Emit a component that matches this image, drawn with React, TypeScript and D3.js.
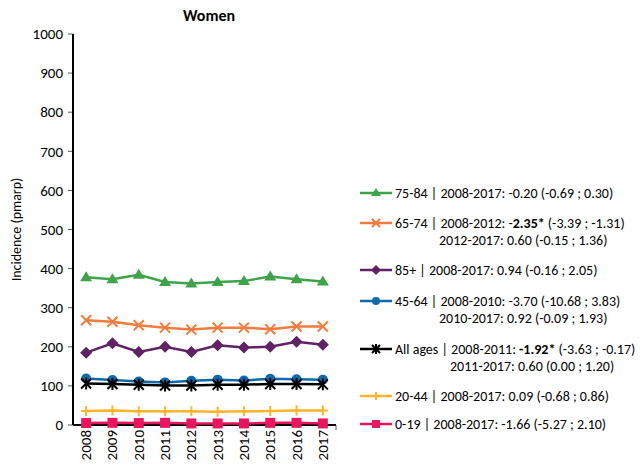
import * as d3 from "d3";
import React from "react";

const years = ["2008", "2009", "2010", "2011", "2012", "2013", "2014", "2015", "2016", "2017"];
const yTicks = [0, 100, 200, 300, 400, 500, 600, 700, 800, 900, 1000];

const age7584 = [378, 373, 384, 366, 362, 366, 368, 380, 373, 367];
const age6574 = [268, 264, 255, 249, 244, 249, 249, 245, 252, 252];
const age85 = [185, 209, 187, 200, 187, 204, 198, 200, 213, 205];
const age4564 = [119, 115, 111, 109, 113, 116, 114, 118, 117, 116];
const allAges = [106, 105, 103, 101, 101, 103, 103, 105, 105, 104];
const age2044 = [36, 37, 35, 35, 35, 34, 35, 36, 37, 37];
const age019 = [5, 5.5, 5, 5.5, 4, 4, 4, 5.5, 5.5, 4];

type Part = { t: string; b?: boolean };
type Series = { name: string; values: number[]; color: string; marker: string; lines: Part[][]; indent: number };

const series: Series[] = [
  { name: "75-84", values: age7584, color: "#3fa34a", marker: "triangle", indent: 0,
    lines: [[{ t: "75-84 | 2008-2017: -0.20 (-0.69 ; 0.30)" }]] },
  { name: "65-74", values: age6574, color: "#f47b3e", marker: "x", indent: 44,
    lines: [[{ t: "65-74 | 2008-2012: -" }, { t: "2.35*", b: true }, { t: " (-3.39 ; -1.31)" }],
      [{ t: "2012-2017: 0.60 (-0.15 ; 1.36)" }]] },
  { name: "85+", values: age85, color: "#5f2264", marker: "diamond", indent: 0,
    lines: [[{ t: "85+ | 2008-2017: 0.94 (-0.16 ; 2.05)" }]] },
  { name: "45-64", values: age4564, color: "#0f6aad", marker: "circle", indent: 44,
    lines: [[{ t: "45-64 | 2008-2010: -3.70 (-10.68 ; 3.83)" }],
      [{ t: "2010-2017: 0.92 (-0.09 ; 1.93)" }]] },
  { name: "All ages", values: allAges, color: "#000000", marker: "asterisk", indent: 55,
    lines: [[{ t: "All ages | 2008-2011: " }, { t: "-1.92*", b: true }, { t: " (-3.63 ; -0.17)" }],
      [{ t: "2011-2017: 0.60 (0.00 ; 1.20)" }]] },
  { name: "20-44", values: age2044, color: "#fbb52c", marker: "plus", indent: 0,
    lines: [[{ t: "20-44 | 2008-2017: 0.09 (-0.68 ; 0.86)" }]] },
  { name: "0-19", values: age019, color: "#e8175d", marker: "square", indent: 0,
    lines: [[{ t: "0-19 | 2008-2017: -1.66 (-5.27 ; 2.10)" }]] },
];

const legendY = [193, 223, 270, 301, 349, 396, 424];

const font = "Carlito, Lato, 'Liberation Sans', sans-serif";

function Marker({ kind, color, x, y, s = 5 }: { kind: string; color: string; x: number; y: number; s?: number }) {
  switch (kind) {
    case "triangle":
      return <path d={`M${x},${y - s - 1}L${x + s + 1},${y + s - 1}L${x - s - 1},${y + s - 1}Z`} fill={color} />;
    case "x":
      return <path d={`M${x - s},${y - s}L${x + s},${y + s}M${x - s},${y + s}L${x + s},${y - s}`} stroke={color} strokeWidth={2} />;
    case "diamond":
      return <path d={`M${x},${y - s - 1}L${x + s + 1},${y}L${x},${y + s + 1}L${x - s - 1},${y}Z`} fill={color} />;
    case "circle":
      return <circle cx={x} cy={y} r={s} fill={color} />;
    case "asterisk":
      return <path d={`M${x - s},${y - s}L${x + s},${y + s}M${x - s},${y + s}L${x + s},${y - s}M${x},${y - s - 1}L${x},${y + s + 1}`} stroke={color} strokeWidth={2} />;
    case "plus":
      return <path d={`M${x - s},${y}L${x + s},${y}M${x},${y - s}L${x},${y + s}`} stroke={color} strokeWidth={2} />;
    default:
      return <rect x={x - s} y={y - s} width={2 * s} height={2 * s} fill={color} />;
  }
}

export default function App() {
  const left = 73;
  const right = 336;
  const top = 34;
  const bottom = 425;

  const x = d3.scalePoint<string>().domain(years).range([left, right]).padding(0.5);
  const y = d3.scaleLinear().domain([0, 1000]).range([bottom, top]);
  const line = d3.line<number>().x((d, i) => x(years[i]) as number).y((d) => y(d));

  return (
    <svg width={643} height={469} style={{ position: "absolute", left: 0, top: 0, background: "#fff" }} fontFamily={font}>
      <text x={209} y={21} textAnchor="middle" fontWeight="bold" fontSize={16}>Women</text>

      {yTicks.map((t) => (
        <g key={t}>
          <line x1={left - 5} x2={left} y1={y(t)} y2={y(t)} stroke="#595959" />
          <text x={left - 10} y={y(t)} dy="0.35em" textAnchor="end" fontSize={15}>{t}</text>
        </g>
      ))}
      <text transform={`translate(21,${(top + bottom) / 2}) rotate(-90)`} textAnchor="middle" fontSize={14}>Incidence (pmarp)</text>

      {years.map((yr) => (
        <text key={yr} transform={`translate(${(x(yr) as number) + 5},${bottom + 5}) rotate(-90)`} textAnchor="end" fontSize={15}>{yr}</text>
      ))}

      <line x1={left} x2={left} y1={top} y2={bottom} stroke="#000" strokeWidth={2} />
      <line x1={left} x2={right} y1={bottom} y2={bottom} stroke="#000" strokeWidth={2} />
      <line x1={right} x2={right} y1={bottom} y2={bottom + 5} stroke="#595959" />

      {series.map((s) => (
        <g key={s.name}>
          <path d={line(s.values) || ""} fill="none" stroke={s.color} strokeWidth={2.5} />
          {s.values.map((v, i) => (
            <Marker key={i} kind={s.marker} color={s.color} x={x(years[i]) as number} y={y(v)} />
          ))}
        </g>
      ))}

      {series.map((s, k) => {
        const ly = legendY[k];
        return (
          <g key={s.name}>
            <line x1={360} x2={392} y1={ly} y2={ly} stroke={s.color} strokeWidth={2.5} />
            <Marker kind={s.marker} color={s.color} x={376} y={ly} s={4} />
            {s.lines.map((ln, j) => (
              <text key={j} x={395 + (j > 0 ? s.indent : 0)} y={ly + j * 17} dy="0.35em" fontSize={14}>
                {ln.map((p, q) => (
                  <tspan key={q} fontWeight={p.b ? "bold" : "normal"}>{p.t}</tspan>
                ))}
              </text>
            ))}
          </g>
        );
      })}
    </svg>
  );
}
